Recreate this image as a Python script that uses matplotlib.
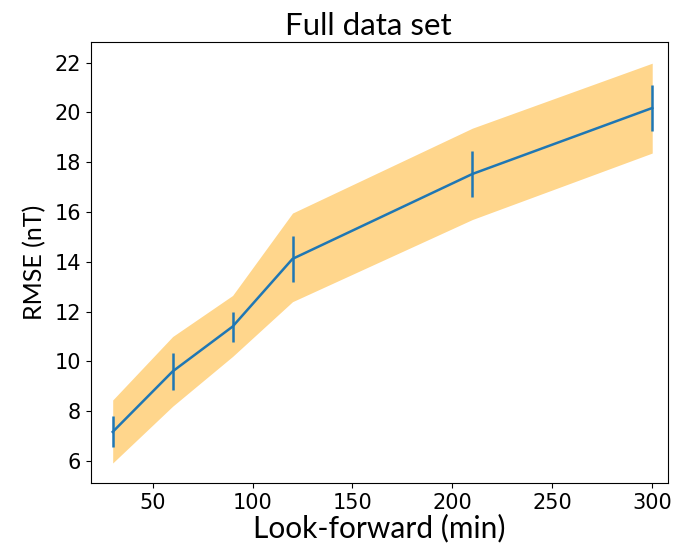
import matplotlib
matplotlib.use("Agg")
import matplotlib.pyplot as plt

look_forward = [30, 60, 90, 120, 210, 300]
rmse = [7.17, 9.6, 11.4, 14.12, 17.53, 20.18]
rmse_err = [0.62, 0.75, 0.6, 0.92, 0.93, 0.92]
band_lo = [5.92, 8.2, 10.2, 12.4, 15.7, 18.37]
band_hi = [8.45, 11.0, 12.65, 15.96, 19.37, 21.98]

fig = plt.figure(figsize=(6.77, 5.57), dpi=100)
ax = fig.add_axes([0.134, 0.133, 0.853, 0.792])  # llx, lly, w, h

ax.fill_between(look_forward, band_lo, band_hi, color='orange', alpha=0.45, linewidth=0)
ax.errorbar(look_forward, rmse, yerr=rmse_err, color='tab:blue', linewidth=1.8, elinewidth=1.8)

ax.set_xlim(19, 308)
ax.set_ylim(5.12, 22.84)
ax.set_yticks([6, 8, 10, 12, 14, 16, 18, 20, 22])
ax.set_xticks([50, 100, 150, 200, 250, 300])
ax.tick_params(labelsize=15)
ax.set_xlabel('Look-forward (min)', fontsize=21.5, family='Lato', labelpad=1)
ax.set_ylabel('RMSE (nT)', fontsize=18, family='Lato', labelpad=6)
ax.set_title('Full data set', fontsize=22.5, family='Lato', pad=5, x=0.48)

fig.savefig('out.png', dpi=100)
